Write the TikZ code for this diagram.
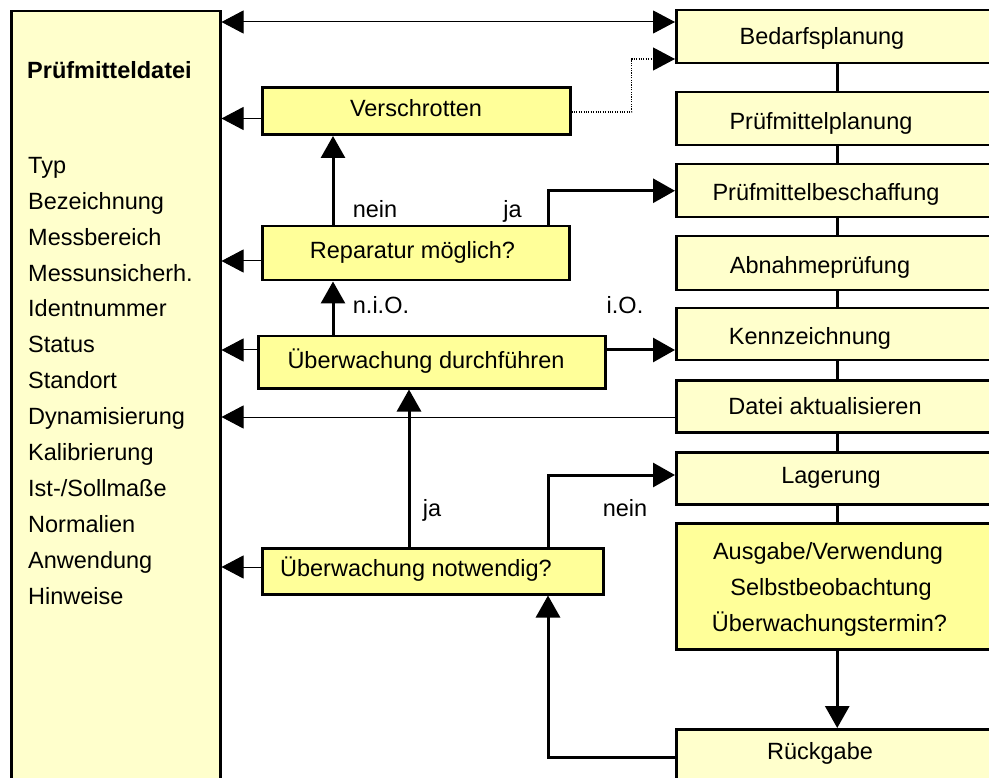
\documentclass[tikz,border=0pt]{standalone}
\usepackage{fontspec}
\setmainfont{Liberation Sans}
\usetikzlibrary{arrows.meta,calc}
\definecolor{paleY}{HTML}{FFFFCC}
\definecolor{strongY}{HTML}{FFFF99}
\newcommand\myfs{\fontsize{23.5pt}{28pt}\selectfont}
\tikzset{
  box/.style={draw, line width=2.5pt, inner sep=0pt, anchor=north west},
  pale/.style={box, fill=paleY},
  strong/.style={box, fill=strongY},
  txt/.style={inner sep=0pt, text height=16.8pt, text depth=0pt, font=\myfs},
  thinarr/.style={line width=1pt, -{Triangle[length=22pt,width=23pt]}},
  thickarr/.style={line width=3pt, -{Triangle[length=22pt,width=24pt]}},
  dotarr/.style={line width=1.1pt, dash pattern=on 1.1pt off 1.3pt, -{Triangle[length=22pt,width=23pt]}},
  conn/.style={line width=2.8pt},
}
\begin{document}
\begin{tikzpicture}[x=1pt,y=-1pt]
\useasboundingbox (0,0) rectangle (989,778);
\clip (0,0) rectangle (989,778);
\fill[white] (0,0) rectangle (989,778);

% left file box
\node[pale, minimum width=209pt, minimum height=800pt] (pdat) at (10,10) {};
\node[txt, anchor=west, font=\myfs\bfseries] (pdatT) at (27,70.5) {Prüfmitteldatei};
\foreach \t [count=\i from 0] in {Typ,Bezeichnung,Messbereich,Messunsicherh.,Identnummer,Status,Standort,Dynamisierung,Kalibrierung,Ist-/Sollmaße,Normalien,Anwendung,Hinweise}
  \node[txt, anchor=west] (li\i) at (28,165+35.9*\i) {\t};

% right column
\node[pale, minimum width=322pt, minimum height=53pt] (bed) at (675,9) {};
\node[pale, minimum width=322pt, minimum height=53pt] (plan) at (675,91) {};
\node[pale, minimum width=322pt, minimum height=53pt] (besch) at (675,163) {};
\node[pale, minimum width=322pt, minimum height=54pt] (abn) at (675,235) {};
\node[pale, minimum width=322pt, minimum height=52pt] (kenn) at (675,307) {};
\node[pale, minimum width=322pt, minimum height=52pt] (dat) at (675,379) {};
\node[pale, minimum width=322pt, minimum height=52pt] (lag) at (675,451) {};
\node[strong, minimum width=322pt, minimum height=126pt] (aus) at (675,522) {};
\node[pale, minimum width=322pt, minimum height=80pt] (rueck) at (675,728) {};

\node[txt] (bedT) at (822,36) {Bedarfsplanung};
\node[txt] (planT) at (821,121.5) {Prüfmittelplanung};
\node[txt] (beschT) at (826,192) {Prüfmittelbeschaffung};
\node[txt] (abnT) at (820,264.7) {Abnahmeprüfung};
\node[txt] (kennT) at (810,336.3) {Kennzeichnung};
\node[txt] (datT) at (825,406.3) {Datei aktualisieren};
\node[txt] (lagT) at (831,475.3) {Lagerung};
\node[txt] (ausT1) at (828,551) {Ausgabe/Verwendung};
\node[txt] (ausT2) at (831,586.7) {Selbstbeobachtung};
\node[txt] (ausT3) at (829.5,622.8) {Überwachungstermin?};
\node[txt] (rueckT) at (820,751) {Rückgabe};

% middle boxes
\node[strong, minimum width=308pt, minimum height=47pt] (ver) at (261,86.5) {};
\node[strong, minimum width=307pt, minimum height=54pt] (rep) at (261,225) {};
\node[strong, minimum width=347pt, minimum height=52pt] (dur) at (257,335) {};
\node[strong, minimum width=341pt, minimum height=46pt] (not) at (261,547) {};

\node[txt] (verT) at (416,108.5) {Verschrotten};
\node[txt] (repT) at (412.5,250) {Reparatur möglich?};
\node[txt] (durT) at (426,360.5) {Überwachung durchführen};
\node[txt] (notT) at (416,568.5) {Überwachung notwendig?};

% labels
\node[txt] (l1) at (375,209) {nein};
\node[txt] (l2) at (512.5,209) {ja};
\node[txt] (l3) at (381,305.5) {n.i.O.};
\node[txt] (l4) at (625,305.5) {i.O.};
\node[txt] (l5) at (432,508.5) {ja};
\node[txt] (l6) at (625,508) {nein};

% right column connectors
\draw[conn] (bed.south) -- (plan.north);
\draw[conn] (plan.south) -- (besch.north);
\draw[conn] (besch.south) -- (abn.north);
\draw[conn] (abn.south) -- (kenn.north);
\draw[conn] (kenn.south) -- (dat.north);
\draw[conn] (dat.south) -- (lag.north);
\draw[conn] (lag.south) -- (aus.north);
\draw[thickarr] (aus.south) -- (rueck.north);

% thin arrows
\draw[line width=1pt, {Triangle[length=22pt,width=23pt]}-{Triangle[length=22pt,width=23pt]}]
  ([yshift=-13pt]bed.north west -| pdat.east) -- ([yshift=-13pt]bed.north west);
\draw[thinarr] ([yshift=-32pt]ver.north west) -- ([yshift=-32pt]ver.north west -| pdat.east);
\draw[thinarr] ([yshift=-36pt]rep.north west) -- ([yshift=-36pt]rep.north west -| pdat.east);
\draw[thinarr] ([yshift=-15pt]dur.north west) -- ([yshift=-15pt]dur.north west -| pdat.east);
\draw[thinarr] ([yshift=-38pt]dat.north west) -- ([yshift=-38pt]dat.north west -| pdat.east);
\draw[thinarr] ([yshift=-20pt]not.north west) -- ([yshift=-20pt]not.north west -| pdat.east);

% dotted
\draw[dotarr] ([yshift=-25.5pt]ver.north east) -- ++(60,0) |- ([yshift=-50pt]bed.north west);

% thick arrows
\draw[thickarr] ([xshift=72pt]rep.north west) -- ([xshift=72pt]ver.south west);
\draw[thickarr] ([xshift=287pt]rep.north west) |- (besch.west);
\draw[thickarr] ([xshift=76pt]dur.north west) -- ([xshift=72pt]rep.south west);
\draw[thickarr] ([yshift=-15pt]dur.north east) -- ([yshift=-15pt]dur.north east -| kenn.west);
\draw[thickarr] ([xshift=148pt]not.north west) -- ([xshift=152pt]dur.south west);
\draw[thickarr] ([xshift=287pt]not.north west) |- ([yshift=-24pt]lag.north west);
\draw[thickarr] ([yshift=-29pt]rueck.north west) -| ([xshift=287pt]not.south west);
\end{tikzpicture}
\end{document}
